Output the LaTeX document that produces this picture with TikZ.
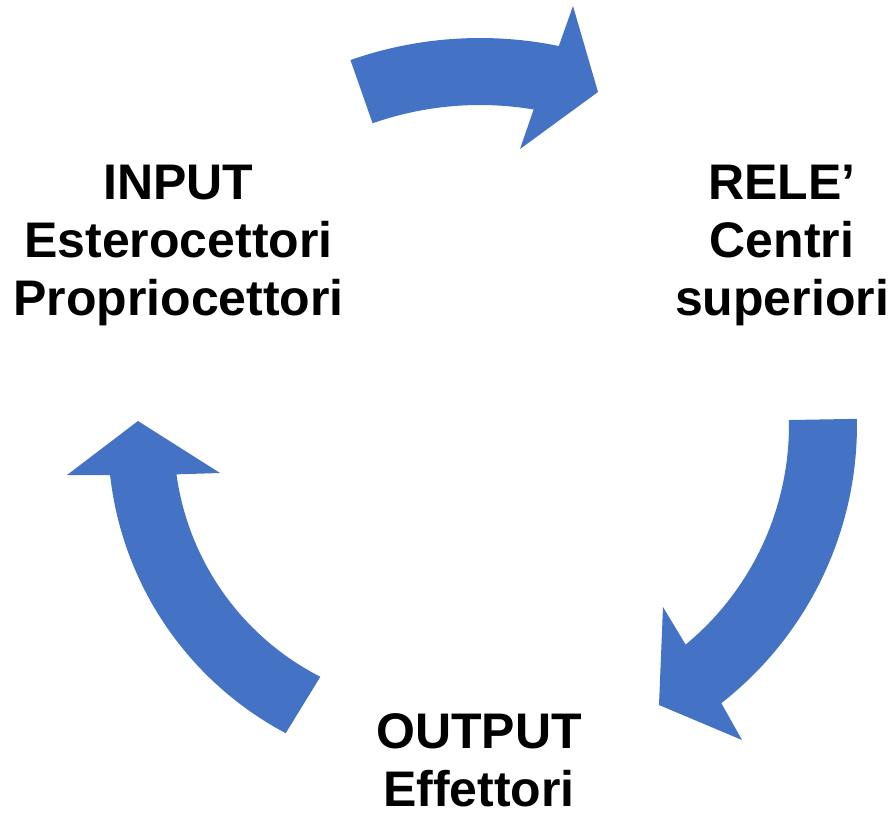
\documentclass[tikz,border=0pt]{standalone}
\usepackage{fontspec}
\setmainfont{Liberation Sans}
\definecolor{arrowblue}{HTML}{4472C4}
\begin{document}
\begin{tikzpicture}[x=1pt,y=-1pt,
  blockarrow/.style={fill=arrowblue,draw=none},
  label/.style={align=center,inner sep=0pt,anchor=north,
    font=\fontsize{50}{58}\selectfont\bfseries}]
\useasboundingbox (0,0) rectangle (895,812);
% top arrow (INPUT -> RELE')
\fill[blockarrow]
  plot[domain=-109.3:-78.4,samples=40,variable=\t] ({480+392*cos(\t)},{430+392*sin(\t)})
  -- (573,6) -- (598,92) -- (520,149)
  -- plot[domain=-80.5:-109.3,samples=40,variable=\t] ({480+325*cos(\t)},{430+325*sin(\t)})
  -- cycle;
% right arrow (RELE' -> OUTPUT)
\fill[blockarrow]
  plot[domain=-1:52,samples=50,variable=\t] ({504+353*cos(\t)},{425+353*sin(\t)})
  -- (742,740) -- (659,705) -- (663,607)
  -- plot[domain=50.4:-1,samples=50,variable=\t] ({504+285*cos(\t)},{425+285*sin(\t)})
  -- cycle;
% left arrow (OUTPUT -> INPUT)
\fill[blockarrow]
  plot[domain=117.9:173.6,samples=50,variable=\t] ({442+334*cos(\t)},{438+334*sin(\t)})
  -- (67,475) -- (138,421) -- (220,473)
  -- plot[domain=172.2:117.0,samples=50,variable=\t] ({442+268*cos(\t)},{438+268*sin(\t)})
  -- cycle;
% labels
\node[label] (input) at (178.5,165) {INPUT\\Esterocettori\\Propriocettori};
\node[label] (rele) at (782,165) {RELE’\\Centri\\superiori};
\node[label] (output) at (479,713) {OUTPUT\\Effettori};
\end{tikzpicture}
\end{document}
